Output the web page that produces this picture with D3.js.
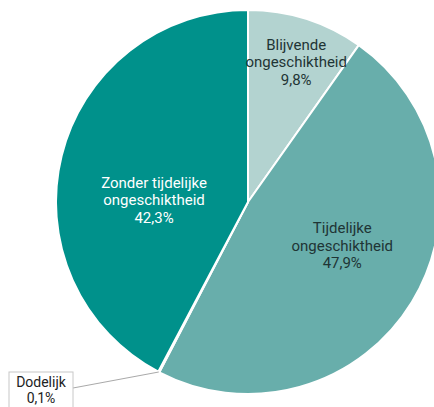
<!DOCTYPE html>
<html><head><meta charset="utf-8">
<script src="https://cdn.jsdelivr.net/npm/d3@7"></script>
<style>
html,body{margin:0;padding:0;background:#fff;}
svg{display:block;font-family:Roboto, "Noto Sans", sans-serif;}
</style></head>
<body>
<svg id="chart" width="434" height="407"></svg>
<script>
const categories = ["Blijvende ongeschiktheid", "Tijdelijke ongeschiktheid", "Dodelijk", "Zonder tijdelijke ongeschiktheid"];
const labelLines = [["Blijvende","ongeschiktheid"],["Tijdelijke","ongeschiktheid"],["Dodelijk"],["Zonder tijdelijke","ongeschiktheid"]];
const values = [9.8, 47.9, 0.1, 42.3];
const valueLabels = ["9,8%", "47,9%", "0,1%", "42,3%"];
const colors = ["#b3d3d0", "#68aeab", "#2f6f6c", "#00918b"];
const textColors = ["#1f3535", "#1f3535", "#222", "#ffffff"];

const svg = d3.select("#chart");
const cx = 248, cy = 202, R = 192;
const g = svg.append("g").attr("transform", `translate(${cx},${cy})`);

const data = categories.map((c,i)=>({name:c, value:values[i], i}));
const pie = d3.pie().value(d=>d.value).sort(null);
const arcs = pie(data);
const arc = d3.arc().innerRadius(0).outerRadius(R);

g.selectAll("path.slice").data(arcs).enter().append("path")
  .attr("class","slice")
  .attr("d", arc)
  .attr("fill", d=>colors[d.data.i])
  .attr("stroke", "#fff")
  .attr("stroke-width", 2)
  .attr("stroke-linejoin","round");

// label placement (polar: angle in degrees from 12 o'clock, radius)
const labelPolar = [[19, 148], [115, 104], null, [271, 94]];
const lh = 17.5;
arcs.forEach((a, k) => {
  const i = a.data.i;
  const p = labelPolar[i];
  if (!p) return;
  const ang = p[0] * Math.PI / 180;
  const x = Math.sin(ang) * p[1], y = -Math.cos(ang) * p[1];
  const lines = labelLines[i].concat([valueLabels[i]]);
  const t = g.append("text")
    .attr("text-anchor","middle")
    .attr("font-size", 15)
    .attr("font-weight", 400)
    .attr("fill", textColors[i]);
  lines.forEach((ln, j) => {
    t.append("tspan").attr("x", x)
      .attr("y", y + (j - (lines.length-1)/2) * lh + 5)
      .text(ln);
  });
});

// Dodelijk callout
const dod = arcs[2];
const midA = (dod.startAngle + dod.endAngle)/2;
const px = cx + Math.sin(midA) * R, py = cy - Math.cos(midA) * R;
const box = {x: 9, y: 372, w: 64, h: 44};
svg.append("line")
  .attr("x1", box.x + box.w).attr("y1", 388)
  .attr("x2", px).attr("y2", py)
  .attr("stroke", "#a9a9a9").attr("stroke-width", 1);
svg.append("rect")
  .attr("x", box.x).attr("y", box.y).attr("width", box.w).attr("height", box.h)
  .attr("fill", "#fff").attr("stroke", "#c8c8c8").attr("stroke-width", 1);
const dt = svg.append("text").attr("text-anchor","middle")
  .attr("font-size", 14).attr("fill", "#222");
dt.append("tspan").attr("x", box.x + box.w/2).attr("y", 387).text(labelLines[2][0]);
dt.append("tspan").attr("x", box.x + box.w/2).attr("y", 403).text(valueLabels[2]);
</script>
</body></html>
